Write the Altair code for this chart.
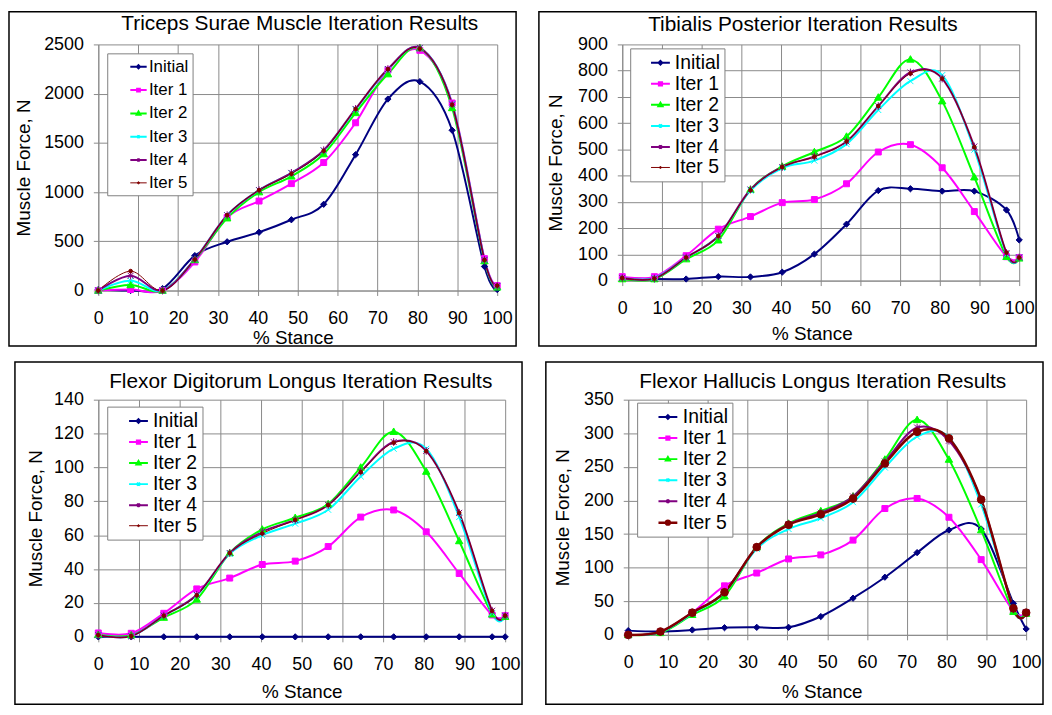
import altair as alt
import pandas as pd

FONT = "Liberation Sans"

STANCE = [0, 8.1, 16.1, 24.2, 32.3, 40.3, 48.4, 56.5, 64.5, 72.6, 80.6, 88.7, 96.8, 100]
X_TICKS = [0, 10, 20, 30, 40, 50, 60, 70, 80, 90, 100]
SERIES = ["Initial", "Iter 1", "Iter 2", "Iter 3", "Iter 4", "Iter 5"]
COLORS = ["#000080", "#FF00FF", "#00FF00", "#00FFFF", "#800080", "#800000"]

# Triceps Surae
TS_TICKS = [0, 500, 1000, 1500, 2000, 2500]
TS_INITIAL = [10, 0, 20, 355, 495, 592, 719, 876, 1380, 1945, 2122, 1628, 244, 10]
TS_ITER1 = [0, 10, 0, 290, 742, 909, 1086, 1300, 1704, 2239, 2440, 1905, 324, 50]
TS_ITER2 = [0, 57, 0, 311, 735, 1000, 1160, 1387, 1805, 2199, 2463, 1855, 300, 33]
TS_ITER3 = [0, 100, 0, 318, 765, 1019, 1193, 1420, 1838, 2246, 2463, 1895, 311, 43]
TS_ITER4 = [0, 150, 0, 318, 765, 1020, 1195, 1425, 1845, 2250, 2465, 1890, 311, 45]
TS_ITER5 = [0, 197, 0, 315, 765, 1019, 1186, 1420, 1845, 2249, 2456, 1888, 311, 50]

# Tibialis Posterior
TP_TICKS = [0, 100, 200, 300, 400, 500, 600, 700, 800, 900]
TP_INITIAL = [10, 6, 6, 15, 14, 32, 101, 215, 343, 350, 341, 341, 269, 155]
TP_ITER1 = [15, 15, 95, 196, 244, 297, 309, 369, 490, 518, 430, 263, 91, 88]
TP_ITER2 = [6, 6, 82, 154, 347, 435, 490, 549, 698, 843, 684, 394, 91, 85]
TP_ITER3 = [10, 10, 88, 170, 343, 429, 457, 520, 650, 760, 783, 499, 101, 88]
TP_ITER4 = [10, 8, 88, 170, 347, 433, 473, 530, 665, 793, 770, 511, 105, 88]
TP_ITER5 = [10, 8, 88, 170, 345, 433, 472, 530, 665, 789, 770, 509, 107, 88]

# Flexor Digitorum Longus
FDL_TICKS = [0, 20, 40, 60, 80, 100, 120, 140]
FDL_INITIAL = [0, 0, 0, 0, 0, 0, 0, 0, 0, 0, 0, 0, 0, 0]
FDL_ITER1 = [2.3, 2.1, 13.9, 28.3, 34.7, 42.7, 44.7, 53.3, 70.7, 74.9, 62, 37.4, 12.9, 12.5]
FDL_ITER2 = [1.3, 1, 11.4, 22.1, 49.5, 63.4, 70.3, 78.4, 100, 121.1, 97.6, 56.6, 13.3, 11.9]
FDL_ITER3 = [1, 0.5, 12.5, 24.5, 49, 60, 66.8, 75, 94.7, 111, 111, 70.7, 13.9, 12.3]
FDL_ITER4 = [1, 0.4, 12.5, 24.8, 49.5, 62, 69, 77.8, 97.6, 115, 109.8, 73.2, 15.4, 12.5]
FDL_ITER5 = [1, 0.4, 12.5, 24.5, 49.5, 61, 69, 77.8, 97.2, 114.6, 109.6, 73.2, 15.4, 12.5]

# Flexor Hallucis Longus
FHL_TICKS = [0, 50, 100, 150, 200, 250, 300, 350]
FHL_INITIAL = [6.3, 4.9, 7.3, 10.7, 11.2, 11.2, 27.3, 54.6, 85.8, 122.4, 156, 157.5, 46.8, 8.8]
FHL_ITER1 = [0, 4, 33, 73, 92, 113, 119, 141, 188, 203, 175, 112, 35.6, 33]
FHL_ITER2 = [0, 3, 30, 57.5, 130.6, 165.7, 184.3, 206, 261, 320, 261, 156, 34.6, 31.7]
FHL_ITER3 = [0, 4, 31.7, 62.4, 128, 157.5, 173.5, 197.4, 249, 295, 294, 194, 40.5, 33]
FHL_ITER4 = [0, 4.5, 33, 64, 130.6, 164.8, 181.8, 206, 258, 308.6, 289, 201, 38, 33]
FHL_ITER5 = [0, 4.9, 33, 63.4, 130.6, 163.8, 179.4, 202.8, 255, 302.2, 292.5, 201.3, 39.5, 33]

# marker glyphs on the curves
MARKERS = [
    "M0,-1L1,0L0,1L-1,0Z",
    "M-1,-1H1V1H-1Z",
    "M0,-1L1,0.75L-1,0.75Z",
    "M-1,-1L1,1M-1,1L1,-1",
    "M-1,-1L1,1M-1,1L1,-1M0,-1.3V1.3",
    "circle",
]


def legend_glyphs(dot):
    return [
        "M-1,0H1M0,-0.2L0.2,0L0,0.2L-0.2,0Z",
        "M-1,0H1M-0.17,-0.17H0.17V0.17H-0.17Z",
        "M-1,0H1M0,-0.22L0.22,0.16L-0.22,0.16Z",
        "M-1,0H1M-0.16,-0.16L0.16,0.16M-0.16,0.16L0.16,-0.16",
        "M-1,0H1M-0.16,-0.16L0.16,0.16M-0.16,0.16L0.16,-0.16M0,-0.21V0.21",
        "M-1,0H1M-%s,0A%s,%s 0 1,0 %s,0A%s,%s 0 1,0 -%s,0Z" % ((dot,) * 7),
    ]


def build_rows(values):
    rows = []
    for name, vals in zip(SERIES, values):
        for xv, yv in zip(STANCE, vals):
            rows.append({"stance": xv, "force": yv, "series": name})
    return pd.DataFrame(rows)


def panel(title, values, y_ticks, g):
    df = build_rows(values)
    w, h = g["w"], g["h"]
    x_enc = alt.X(
        "stance:Q",
        scale=alt.Scale(domain=[0, 100], nice=False, zero=False),
        axis=alt.Axis(values=X_TICKS, title="% Stance", labelFlush=False,
                      labelOverlap=False, labelPadding=14, format="d",
                      titleX=g["xtx"], titleY=g["xty"], titleBaseline="middle"),
    )
    y_enc = alt.Y(
        "force:Q",
        scale=alt.Scale(domain=[0, y_ticks[-1]], nice=False),
        axis=alt.Axis(values=y_ticks, title="Muscle Force, N", labelPadding=10,
                      labelOverlap=False, format="d",
                      titleX=g["ytx"], titleY=h / 2, titleAngle=270,
                      titleBaseline="middle"),
    )
    widths = [2, 2, 2, 2, 2, g["w5"]]
    sizes = [40, 36, 56, 36, 36, g["dot"]]
    base = alt.Chart(df)
    lines = base.mark_line(interpolate="cardinal").encode(
        x=x_enc, y=y_enc,
        color=alt.Color("series:N", scale=alt.Scale(domain=SERIES, range=COLORS), legend=None),
        strokeWidth=alt.StrokeWidth("series:N", scale=alt.Scale(type="ordinal", domain=SERIES, range=widths), legend=None),
    )
    points = base.mark_point(filled=True, opacity=1, strokeWidth=1).encode(
        x=x_enc, y=y_enc,
        fill=alt.Fill("series:N", scale=alt.Scale(domain=SERIES, range=COLORS), legend=None),
        stroke=alt.Stroke("series:N", scale=alt.Scale(domain=SERIES, range=COLORS), legend=None),
        shape=alt.Shape("series:N", scale=alt.Scale(domain=SERIES, range=MARKERS), legend=None),
        size=alt.Size("series:N", scale=alt.Scale(type="ordinal", domain=SERIES, range=sizes), legend=None),
    )
    pad_right = "\u00a0" * g["nb"]
    leg = alt.Legend(
        title=None, orient="none", legendX=g["lx"], legendY=g["ly"],
        labelFont=FONT, labelFontSize=g["lfs"], labelColor="black",
        labelExpr="datum.label + '%s'" % pad_right,
        symbolSize=g["ss"], rowPadding=g["rp"], padding=4, symbolOffset=g["so"],
        labelOffset=g["lo"], strokeColor="#808080", fillColor="white",
        symbolOpacity=1,
    )
    lwidths = [2, 2, 2, 2, 2, g["lw5"]]
    legend_layer = base.mark_point(filled=True, opacity=0).encode(
        x=x_enc, y=y_enc,
        fill=alt.Fill("series:N", scale=alt.Scale(domain=SERIES, range=COLORS), legend=leg),
        stroke=alt.Stroke("series:N", scale=alt.Scale(domain=SERIES, range=COLORS), legend=leg),
        shape=alt.Shape("series:N", scale=alt.Scale(domain=SERIES, range=legend_glyphs(g["ldot"])), legend=leg),
        strokeWidth=alt.StrokeWidth("series:N", scale=alt.Scale(type="ordinal", domain=SERIES, range=lwidths), legend=leg),
    )
    box = alt.Chart(pd.DataFrame({"k": [0]})).mark_rect(
        filled=False, color="black", strokeWidth=1.5, clip=False
    ).encode(
        x=alt.value(-g["L"]), x2=alt.value(w + g["R"]),
        y=alt.value(-g["T"]), y2=alt.value(h + g["B"]),
    )
    head = alt.Chart(pd.DataFrame({"t": [title]})).mark_text(
        font=FONT, fontSize=21, align="center", baseline="middle", color="black"
    ).encode(text="t:N", x=alt.value(g["tx"]), y=alt.value(g["ty"]))
    return alt.layer(box, lines, points, legend_layer, head).resolve_scale(
        color="independent", fill="independent", stroke="independent",
        shape="independent", size="independent", strokeWidth="independent",
    ).properties(width=w, height=h)


G1 = dict(w=402, h=248, L=90, R=19, T=33, B=56, tx=203, ty=-21, ytx=-75, xtx=196, xty=47,
          lx=9, ly=9, lfs=17, rp=5.5, ss=272, so=18, lo=1, nb=4,
          w5=1, dot=14, lw5=1, ldot=0.12)
G2 = dict(w=400, h=238, L=84, R=17, T=33, B=66, tx=182, ty=-20, ytx=-67, xtx=191, xty=53,
          lx=8, ly=4, lfs=19.5, rp=1.2, ss=361, so=16, lo=4, nb=2,
          w5=1, dot=14, lw5=1, ldot=0.1)
G3 = dict(w=410, h=239, L=84, R=17, T=38, B=68, tx=204, ty=-18, ytx=-63, xtx=205, xty=55,
          lx=9, ly=7, lfs=19.5, rp=1.2, ss=361, so=17, lo=4, nb=2,
          w5=1, dot=14, lw5=1, ldot=0.1)
G4 = dict(w=401, h=237, L=83, R=17, T=38, B=70, tx=196, ty=-18, ytx=-66, xtx=195, xty=57,
          lx=9, ly=3, lfs=19.5, rp=1.2, ss=361, so=16, lo=4, nb=2,
          w5=2.5, dot=60, lw5=2.5, ldot=0.2)

p1 = panel("Triceps Surae Muscle Iteration Results",
           [TS_INITIAL, TS_ITER1, TS_ITER2, TS_ITER3, TS_ITER4, TS_ITER5], TS_TICKS, G1)
p2 = panel("Tibialis Posterior Iteration Results",
           [TP_INITIAL, TP_ITER1, TP_ITER2, TP_ITER3, TP_ITER4, TP_ITER5], TP_TICKS, G2)
p3 = panel("Flexor Digitorum Longus Iteration Results",
           [FDL_INITIAL, FDL_ITER1, FDL_ITER2, FDL_ITER3, FDL_ITER4, FDL_ITER5], FDL_TICKS, G3)
p4 = panel("Flexor Hallucis Longus Iteration Results",
           [FHL_INITIAL, FHL_ITER1, FHL_ITER2, FHL_ITER3, FHL_ITER4, FHL_ITER5], FHL_TICKS, G4)

chart = alt.vconcat(
    alt.hconcat(p1, p2, spacing=21),
    alt.hconcat(p3, p4, spacing=22),
    spacing=14,
).properties(padding=0).configure(background="white").configure_view(
    strokeWidth=0
).configure_axis(
    grid=True, gridColor="#8a8a8a", gridWidth=1,
    domainColor="#8a8a8a", tickColor="#8a8a8a", tickSize=5,
    labelFont=FONT, labelFontSize=18, labelColor="black",
    titleFont=FONT, titleFontSize=19, titleFontWeight="normal", titleColor="black",
)

chart.save("out.html", embed_options={"renderer": "svg", "actions": False})
